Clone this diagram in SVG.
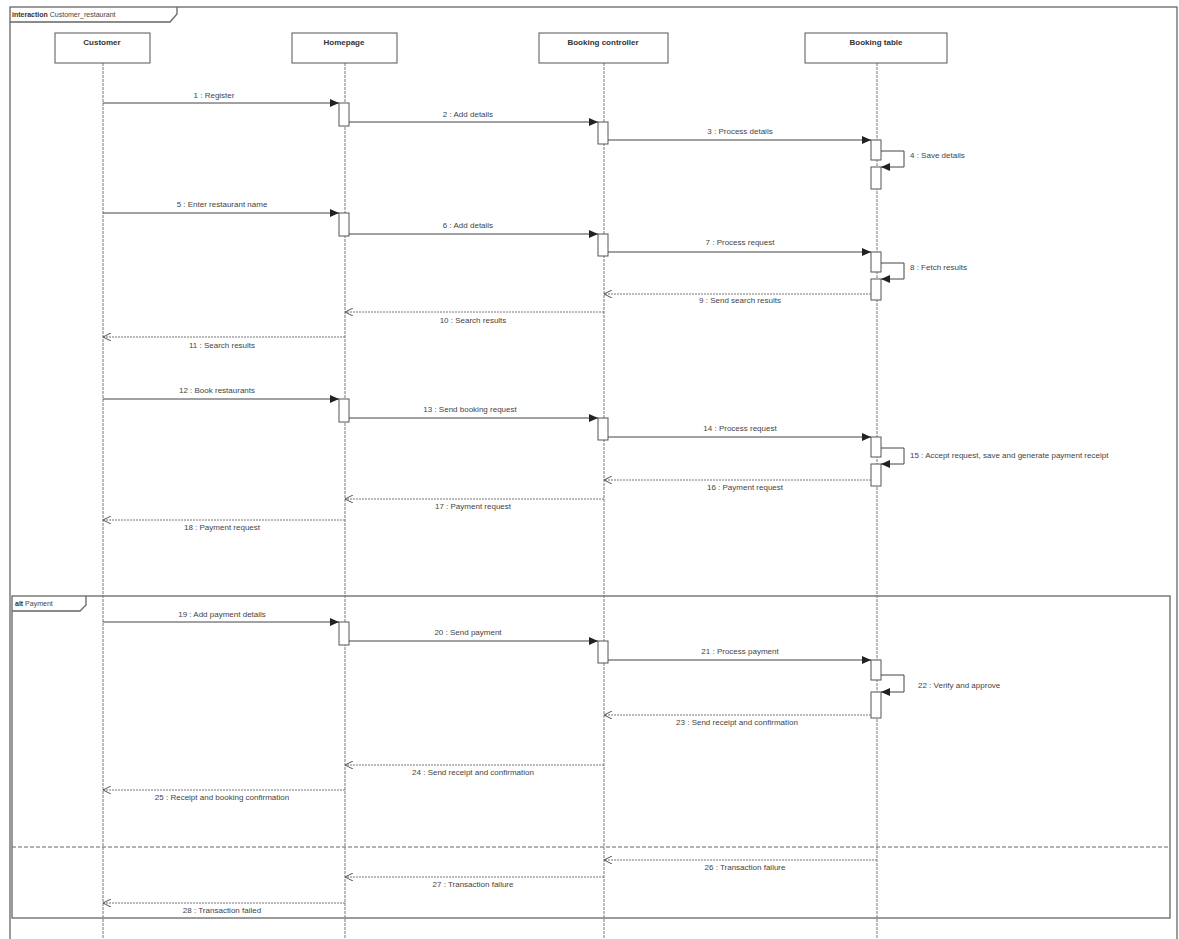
<svg xmlns="http://www.w3.org/2000/svg" width="1179" height="939" viewBox="0 0 1179 939">
<defs>
<style>
text{font-family:"Liberation Sans",Arial,sans-serif;font-size:8px;fill:#444}
.hd{font-weight:bold;fill:#333}
.box{fill:#fff;stroke:#555;stroke-width:1}
.life{stroke:#777;stroke-width:1;stroke-dasharray:3,1}
.act{fill:#fff;stroke:#555;stroke-width:1}
.msg{stroke:#444;stroke-width:1;fill:none}
.ret{stroke:#777;stroke-width:1;fill:none;stroke-dasharray:2,1}
.frame{fill:none;stroke:#666;stroke-width:1.3}
.c{text-anchor:middle}
</style>
<marker id="sync" markerWidth="10" markerHeight="8" refX="9" refY="4" orient="auto" markerUnits="userSpaceOnUse">
<path d="M0,0 L9,4 L0,8 z" fill="#222"/>
</marker>
<marker id="open" markerWidth="10" markerHeight="8" refX="9" refY="4" orient="auto" markerUnits="userSpaceOnUse">
<path d="M1,0 L9,4 L1,8" fill="none" stroke="#555" stroke-width="1"/>
</marker>
</defs>
<rect width="1179" height="939" fill="#fff"/>
<g id="frame">
<rect x="10" y="7" width="1167" height="945" class="frame"/>
<path d="M10,22 H170 L177,14 V7" class="frame"/>
<text x="12" y="17" style="font-size:7px"><tspan class="hd">interaction</tspan> Customer_restaurant</text>
</g>
<g id="alt">
<rect x="12" y="596" width="1158" height="322" class="frame"/>
<path d="M12,611 H80 L86,605 V596" class="frame"/>
<text x="15" y="606" style="font-size:7px"><tspan class="hd">alt</tspan> Payment</text>
<line x1="12" y1="847" x2="1170" y2="847" stroke="#666" stroke-width="1" stroke-dasharray="4,2"/>
</g>
<g id="customer">
<line x1="103" y1="63" x2="103" y2="939" class="life"/>
<rect x="55" y="33" width="95" height="30" class="box"/>
<text x="102" y="45" class="hd c">Customer</text>
</g>
<g id="homepage">
<line x1="345" y1="63" x2="345" y2="939" class="life"/>
<rect x="292" y="33" width="105" height="30" class="box"/>
<text x="344" y="45" class="hd c">Homepage</text>
<rect x="339" y="103" width="10" height="23" class="act"/>
<rect x="339" y="213" width="10" height="23" class="act"/>
<rect x="339" y="399" width="10" height="23" class="act"/>
<rect x="339" y="622" width="10" height="23" class="act"/>
</g>
<g id="booking_controller">
<line x1="604" y1="63" x2="604" y2="939" class="life"/>
<rect x="539" y="33" width="129" height="30" class="box"/>
<text x="603" y="45" class="hd c">Booking controller</text>
<rect x="598" y="122" width="10" height="22" class="act"/>
<rect x="598" y="234" width="10" height="22" class="act"/>
<rect x="598" y="418" width="10" height="22" class="act"/>
<rect x="598" y="641" width="10" height="22" class="act"/>
</g>
<g id="booking_table">
<line x1="877" y1="63" x2="877" y2="939" class="life"/>
<rect x="805" y="33" width="142" height="30" class="box"/>
<text x="876" y="45" class="hd c">Booking table</text>
<rect x="871" y="140" width="10" height="20" class="act"/>
<rect x="871" y="167" width="10" height="22" class="act"/>
<rect x="871" y="252" width="10" height="20" class="act"/>
<rect x="871" y="279" width="10" height="21" class="act"/>
<rect x="871" y="437" width="10" height="20" class="act"/>
<rect x="871" y="464" width="10" height="22" class="act"/>
<rect x="871" y="660" width="10" height="20" class="act"/>
<rect x="871" y="692" width="10" height="26" class="act"/>
</g>
<g id="connectors">
<line x1="103" y1="103" x2="339" y2="103" class="msg" marker-end="url(#sync)"/>
<text x="214" y="98" class="c">1 : Register</text>
<line x1="349" y1="122" x2="598" y2="122" class="msg" marker-end="url(#sync)"/>
<text x="468" y="117" class="c">2 : Add details</text>
<line x1="608" y1="140" x2="871" y2="140" class="msg" marker-end="url(#sync)"/>
<text x="740" y="134" class="c">3 : Process details</text>
<path d="M881,151 H904 V167 H881" class="msg" marker-end="url(#sync)"/>
<text x="910" y="158">4 : Save details</text>

<line x1="103" y1="213" x2="339" y2="213" class="msg" marker-end="url(#sync)"/>
<text x="222" y="207" class="c">5 : Enter restaurant name</text>
<line x1="349" y1="234" x2="598" y2="234" class="msg" marker-end="url(#sync)"/>
<text x="468" y="228" class="c">6 : Add details</text>
<line x1="608" y1="252" x2="871" y2="252" class="msg" marker-end="url(#sync)"/>
<text x="740" y="245" class="c">7 : Process request</text>
<path d="M881,263 H904 V279 H881" class="msg" marker-end="url(#sync)"/>
<text x="910" y="270">8 : Fetch results</text>
<line x1="871" y1="294" x2="604" y2="294" class="ret" marker-end="url(#open)"/>
<text x="740" y="303" class="c">9 : Send search results</text>
<line x1="604" y1="312" x2="345" y2="312" class="ret" marker-end="url(#open)"/>
<text x="473" y="323" class="c">10 : Search results</text>
<line x1="345" y1="337" x2="103" y2="337" class="ret" marker-end="url(#open)"/>
<text x="222" y="348" class="c">11 : Search results</text>

<line x1="103" y1="399" x2="339" y2="399" class="msg" marker-end="url(#sync)"/>
<text x="217" y="393" class="c">12 : Book restaurants</text>
<line x1="349" y1="418" x2="598" y2="418" class="msg" marker-end="url(#sync)"/>
<text x="470" y="412" class="c">13 : Send booking request</text>
<line x1="608" y1="437" x2="871" y2="437" class="msg" marker-end="url(#sync)"/>
<text x="740" y="431" class="c">14 : Process request</text>
<path d="M881,448 H904 V464 H881" class="msg" marker-end="url(#sync)"/>
<text x="910" y="458">15 : Accept request, save and generate payment receipt</text>
<line x1="871" y1="480" x2="604" y2="480" class="ret" marker-end="url(#open)"/>
<text x="745" y="490" class="c">16 : Payment request</text>
<line x1="604" y1="499" x2="345" y2="499" class="ret" marker-end="url(#open)"/>
<text x="473" y="509" class="c">17 : Payment request</text>
<line x1="345" y1="520" x2="103" y2="520" class="ret" marker-end="url(#open)"/>
<text x="222" y="530" class="c">18 : Payment request</text>

<line x1="103" y1="622" x2="339" y2="622" class="msg" marker-end="url(#sync)"/>
<text x="222" y="617" class="c">19 : Add payment details</text>
<line x1="349" y1="641" x2="598" y2="641" class="msg" marker-end="url(#sync)"/>
<text x="468" y="635" class="c">20 : Send payment</text>
<line x1="608" y1="660" x2="871" y2="660" class="msg" marker-end="url(#sync)"/>
<text x="740" y="654" class="c">21 : Process payment</text>
<path d="M881,675 H904 V692 H881" class="msg" marker-end="url(#sync)"/>
<text x="918" y="688">22 : Verify and approve</text>
<line x1="871" y1="715" x2="604" y2="715" class="ret" marker-end="url(#open)"/>
<text x="737" y="725" class="c">23 : Send receipt and confirmation</text>
<line x1="604" y1="765" x2="345" y2="765" class="ret" marker-end="url(#open)"/>
<text x="473" y="775" class="c">24 : Send receipt and confirmation</text>
<line x1="345" y1="790" x2="103" y2="790" class="ret" marker-end="url(#open)"/>
<text x="222" y="800" class="c">25 : Receipt and booking confirmation</text>

<line x1="877" y1="860" x2="604" y2="860" class="ret" marker-end="url(#open)"/>
<text x="745" y="870" class="c">26 : Transaction failure</text>
<line x1="604" y1="877" x2="345" y2="877" class="ret" marker-end="url(#open)"/>
<text x="473" y="887" class="c">27 : Transaction failure</text>
<line x1="345" y1="903" x2="103" y2="903" class="ret" marker-end="url(#open)"/>
<text x="222" y="913" class="c">28 : Transaction failed</text>
</g>
</svg>
